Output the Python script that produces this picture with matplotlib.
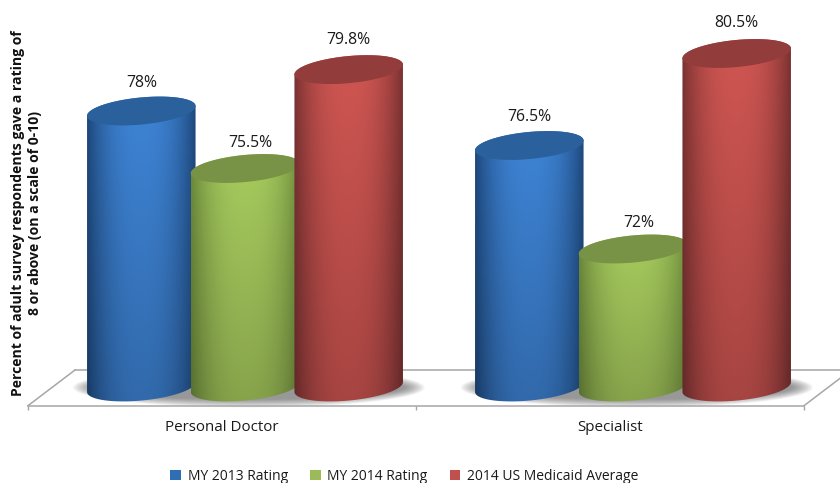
import numpy as np
import matplotlib
matplotlib.use("Agg")
import matplotlib.pyplot as plt
from matplotlib.patches import Polygon, Patch

categories = ["Personal Doctor", "Specialist"]
series_names = ["MY 2013 Rating", "MY 2014 Rating", "2014 US Medicaid Average"]
values_2013 = [78, 76.5]
values_2014 = [75.5, 72]
values_medicaid = [79.8, 80.5]
labels_2013 = ["78%", "76.5%"]
labels_2014 = ["75.5%", "72%"]
labels_medicaid = ["79.8%", "80.5%"]
ylabel = "Percent of adult survey respondents gave a rating of\n8 or above (on a scale of 0-10)"

legend_colors = ["#2F6DB5", "#9BBB59", "#C0504D"]
edge_cols = [(30, 72, 124), (108, 138, 60), (122, 50, 50)]
mid_cols = [(62, 132, 214), (168, 204, 94), (208, 86, 82)]
top_cols = [(42, 96, 156), (120, 146, 70), (146, 60, 60)]

W, H = 840, 483
FONT = "Open Sans"
plt.rcParams["font.family"] = [FONT, "DejaVu Sans"]
fig = plt.figure(figsize=(W / 100, H / 100), dpi=100)

L, R, B, T = 28, 804, 405.7, 0
ax = fig.add_axes([L / W, 1 - B / H, (R - L) / W, (B - T) / H])
XMIN, XMAX = -0.5, 1.5
PX_PER_UNIT_Y = 23.0
YMIN = 78 - (B - 111) / PX_PER_UNIT_Y
YMAX = 78 + 111 / PX_PER_UNIT_Y
PX_PER_UNIT_X = (R - L) / (XMAX - XMIN)
BASE = 66.0
DEPTH = 23 / PX_PER_UNIT_X
SPACING = 103.7 / PX_PER_UNIT_X
A_PX, B_PX, TILT = 54.5, 13.5, np.deg2rad(5.5)


def ell(t):
    dx = A_PX * np.cos(t) * np.cos(TILT) - B_PX * np.sin(t) * np.sin(TILT)
    dy = A_PX * np.cos(t) * np.sin(TILT) + B_PX * np.sin(t) * np.cos(TILT)
    return dx / PX_PER_UNIT_X, dy / PX_PER_UNIT_Y


def cylinder(xc, val, k, z):
    t0 = np.linspace(np.pi, 2 * np.pi, 60)
    t1 = np.linspace(0, np.pi, 60)
    bx, by = ell(t0)
    tx, ty = ell(t1)
    poly = np.vstack([np.c_[xc + bx, BASE + by], np.c_[xc + tx, val + ty]])
    clip = Polygon(poly, closed=True, transform=ax.transData, fc="none", ec="none")
    ax.add_patch(clip)
    u = np.linspace(0, 1, 220)
    s = np.clip(np.abs(u - 0.5) / 0.5, 0, 1) ** 2.4
    v = np.linspace(0, 1, 100)[:, None]
    shade = 0.80 + 0.20 * v
    edge = np.array(edge_cols[k], float)
    mid = np.array(mid_cols[k], float)
    row = (mid[None, :] * (1 - s[:, None]) + edge[None, :] * s[:, None]) / 255
    img = row[None, :, :] * shade[:, :, None]
    im = ax.imshow(np.clip(img, 0, 1), origin="lower", aspect="auto", zorder=z,
                   extent=[xc - A_PX / PX_PER_UNIT_X, xc + A_PX / PX_PER_UNIT_X, BASE - 0.7, val + 0.7],
                   interpolation="bilinear")
    im.set_clip_path(clip)
    t = np.linspace(0, 2 * np.pi, 120)
    ex, ey = ell(t)
    ax.add_patch(Polygon(np.c_[xc + ex, val + ey], closed=True, fc=np.array(top_cols[k]) / 255,
                         ec="none", zorder=z + 0.1, clip_on=False))


axis_col = "#A6A6A6"
back = (405.7 - 370) / (B - T)
ax.plot([0, 47 / (R - L)], [0, back], color=axis_col, lw=1.1, transform=ax.transAxes, clip_on=False, zorder=1)
ax.plot([47 / (R - L), 1.06], [back, back], color=axis_col, lw=1.1, transform=ax.transAxes, clip_on=False, zorder=1)
ax.plot([1, 1.047], [0, (405.7 - 378) / (B - T)], color=axis_col, lw=1.1, transform=ax.transAxes, clip_on=False, zorder=1)

all_vals = [values_2013, values_2014, values_medicaid]
all_labs = [labels_2013, labels_2014, labels_medicaid]
lab_dx = [0, 4, 0]
lab_dy = [20.2, 18.6, 21.6]

for g in range(len(categories)):
    xc = g + DEPTH
    for i in range(14):
        f = i / 13
        aw = (176 - 20 * f) / PX_PER_UNIT_X
        bh = (20 - 8 * f) / PX_PER_UNIT_Y
        t = np.linspace(0, 2 * np.pi, 100)
        ax.add_patch(Polygon(np.c_[xc + 0.01 + aw * np.cos(t), BASE - 0.02 + bh * np.sin(t)], closed=True,
                             fc="#404040", ec="none", alpha=0.05, zorder=1.5, clip_on=False))

for g in range(len(categories)):
    for k in range(3):
        xc = g + DEPTH + (k - 1) * SPACING
        val = all_vals[k][g]
        cylinder(xc, val, k, 2 + g * 10 + k)
        ax.annotate(all_labs[k][g], (xc, val), xytext=(lab_dx[k], lab_dy[k]),
                    textcoords="offset points", ha="center", va="center",
                    fontsize=11.3, color="#1a1a1a", annotation_clip=False, zorder=40)

ax.set_xlim(XMIN, XMAX)
ax.set_ylim(YMIN, YMAX)
ax.patch.set_alpha(0)
for s in ["top", "left", "right"]:
    ax.spines[s].set_visible(False)
ax.spines["bottom"].set_color(axis_col)
ax.spines["bottom"].set_linewidth(1.1)
ax.spines["bottom"].set_zorder(1.6)
ax.set_yticks([])
ax.set_xticks([-0.5, 0.5, 1.5])
ax.set_xticklabels([])
ax.tick_params(axis="x", which="major", length=3, width=1, color=axis_col)
ax.set_xticks(range(len(categories)), minor=True)
ax.set_xticklabels(categories, minor=True)
ax.tick_params(axis="x", which="minor", length=0, pad=10.5, labelsize=10.9, labelcolor="#1a1a1a")

fig.text(26.5 / W, 1 - 213 / H, ylabel, rotation=90, ha="center", va="center", fontsize=10.1,
         fontweight="bold", linespacing=1.25, color="#111111")

handles = [Patch(fc=c, ec="none") for c in legend_colors]
fig.legend(handles, series_names, ncol=3, frameon=False, loc="center",
           bbox_to_anchor=(404.5 / W, 1 - 476.5 / H), fontsize=10.0, handlelength=0.75, handleheight=0.75,
           handletextpad=0.5, columnspacing=1.6, labelcolor="#1a1a1a", borderpad=0)

fig.savefig("out.png", dpi=100, facecolor="white")
